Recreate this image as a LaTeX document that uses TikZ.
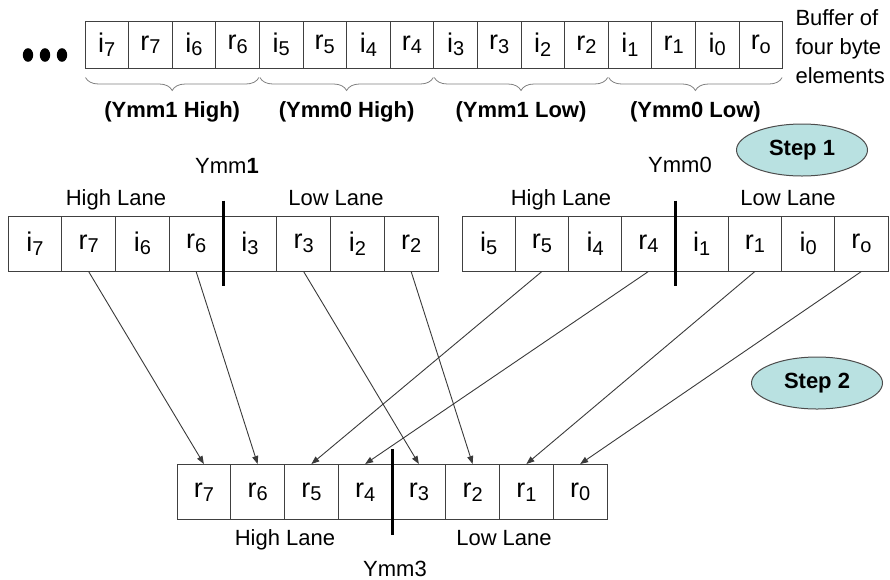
\documentclass[tikz,border=0pt]{standalone}
\usepackage{fontspec}
\setmainfont{Liberation Sans}
\usetikzlibrary{arrows.meta,shapes.geometric,decorations.pathreplacing}
\definecolor{sgrid}{HTML}{404040}
\definecolor{sarrow}{HTML}{3A3A3A}
\definecolor{sstep}{HTML}{B9E1E1}
\definecolor{sbrace}{HTML}{808080}
\newcommand{\elem}[2]{#1\raisebox{-3.5pt}{\fontsize{20}{20}\selectfont #2}}

\begin{document}
\begin{tikzpicture}[x=1pt, y=-1pt,
    cell/.style={rectangle, draw=sgrid, line width=1pt, minimum width=53.75pt, minimum height=55pt, inner sep=0pt, font=\fontsize{27}{27}\selectfont},
    buf/.style={cell, minimum width=43.6pt, minimum height=47pt},
    lbl/.style={anchor=base, font=\fontsize{22}{22}\selectfont},
    hdr/.style={font=\bfseries\fontsize{22}{22}\selectfont},
    brc/.style={draw=sbrace, line width=0.8pt, decorate, decoration={brace, mirror, amplitude=13pt}},
    lanebar/.style={draw=black, line width=3.5pt},
    stepnode/.style={ellipse, draw=black!70, line width=1pt, fill=sstep, minimum width=131pt, minimum height=52pt, inner sep=0pt, font=\bfseries\fontsize{22}{22}\selectfont},
    move/.style={draw=sarrow, line width=0.9pt, -{Triangle[length=8pt,width=6pt]}},
]
    \useasboundingbox (0,0) rectangle (890,579);

    % buffer in memory
    \foreach \x in {28,45,62}
        \fill (\x,55) ellipse (5.2pt and 6.8pt);
    \foreach \ch/\ix [count=\k] in {i/7,r/7,i/6,r/6,i/5,r/5,i/4,r/4,i/3,r/3,i/2,r/2,i/1,r/1,i/0,r/o}
        \node[buf] (t\k) at ({85+43.6*(\k-0.5)},44.5) {\elem{\ch}{\ix}};
    \node[anchor=base west, align=left, font=\fontsize{22}{29}\selectfont] (bufnote) at (792,83) {Buffer of\\four byte\\elements};

    \draw[brc] ([xshift=1pt,yshift=-9pt]t1.south west) -- node[hdr, below=20pt] (grp1) {(Ymm1 High)} ([xshift=-1pt,yshift=-9pt]t4.south east);
    \draw[brc] ([xshift=1pt,yshift=-9pt]t5.south west) -- node[hdr, below=20pt] (grp2) {(Ymm0 High)} ([xshift=-1pt,yshift=-9pt]t8.south east);
    \draw[brc] ([xshift=1pt,yshift=-9pt]t9.south west) -- node[hdr, below=20pt] (grp3) {(Ymm1 Low)} ([xshift=-1pt,yshift=-9pt]t12.south east);
    \draw[brc] ([xshift=1pt,yshift=-9pt]t13.south west) -- node[hdr, below=20pt] (grp4) {(Ymm0 Low)} ([xshift=-1pt,yshift=-9pt]t16.south east);

    \node[stepnode] (step1) at (802,150) {Step 1};
    \node[stepnode] (step2) at (817,383) {Step 2};

    % step 1: two loads
    \foreach \ch/\ix [count=\k] in {i/7,r/7,i/6,r/6,i/3,r/3,i/2,r/2}
        \node[cell] (ya\k) at ({8+53.75*(\k-0.5)},243.5) {\elem{\ch}{\ix}};
    \foreach \ch/\ix [count=\k] in {i/5,r/5,i/4,r/4,i/1,r/1,i/0,r/o}
        \node[cell, minimum width=53.25pt] (yb\k) at ({462+53.25*(\k-0.5)},243.5) {\elem{\ch}{\ix}};
    \draw[lanebar] ([yshift=15pt]ya4.north east) -- ([yshift=-14pt]ya4.south east);
    \draw[lanebar] ([yshift=15pt]yb4.north east) -- ([yshift=-14pt]yb4.south east);

    \node[lbl] (ymm1) at (227,173) {Ymm\textbf{1}};
    \node[lbl] (hia) at (116,205) {High Lane};
    \node[lbl] (loa) at (336,205) {Low Lane};
    \node[lbl] (ymm0) at (680,172) {Ymm0};
    \node[lbl] (hib) at (561,205) {High Lane};
    \node[lbl] (lob) at (788,205) {Low Lane};

    % step 2: shuffle into Ymm3
    \foreach \ix [count=\k] in {7,6,5,4,3,2,1,0}
        \node[cell] (yc\k) at ({177+53.75*(\k-0.5)},492) {\elem{r}{\ix}};
    \draw[lanebar] ([yshift=15pt]yc4.north east) -- ([yshift=-15pt]yc4.south east);

    \node[lbl] (hic) at (285,545) {High Lane};
    \node[lbl] (loc) at (504,545) {Low Lane};
    \node[lbl] (ymm3) at (395,576) {Ymm3};

    \draw[move] (ya2.south) -- (yc1.north);
    \draw[move] (ya4.south) -- (yc2.north);
    \draw[move] (ya6.south) -- (yc5.north);
    \draw[move] (ya8.south) -- (yc6.north);
    \draw[move] (yb2.south) -- (yc3.north);
    \draw[move] (yb4.south) -- (yc4.north);
    \draw[move] (yb6.south) -- (yc7.north);
    \draw[move] (yb8.south) -- (yc8.north);
\end{tikzpicture}
\end{document}
